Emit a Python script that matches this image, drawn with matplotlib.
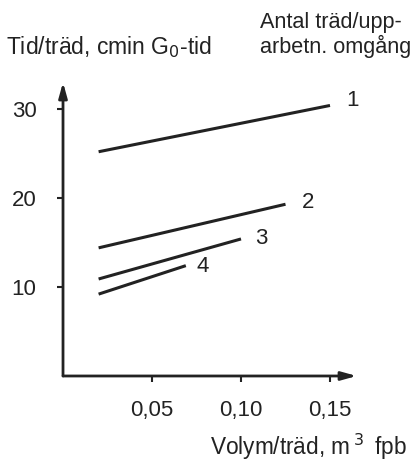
import matplotlib

matplotlib.use("Agg")
import matplotlib.pyplot as plt  # noqa: E402

plt.rcParams["font.family"] = ["Liberation Sans", "DejaVu Sans"]

# Volume per tree (m3 fpb) and time per tree (cmin G0-time) for each
# number of trees per work cycle.
group_names = ["1", "2", "3", "4"]
volume = [
    [0.02, 0.15],
    [0.02, 0.125],
    [0.02, 0.10],
    [0.02, 0.069],
]
time_per_tree = [
    [25.2, 30.4],
    [14.4, 19.3],
    [10.9, 15.4],
    [9.2, 12.4],
]

x_ticks = [0.05, 0.10, 0.15]
x_tick_labels = ["0,05", "0,10", "0,15"]
y_ticks = [10, 20, 30]

# Where each group number sits relative to its line end (points).
label_offsets = [(12, 3.6), (11.5, 1.4), (10, 0), (8, -0.7)]

ink = "#222222"

fig = plt.figure(figsize=(4.17, 4.61), dpi=100)
ax = fig.add_axes([0.1511, 0.1844, 0.7043, 0.637])
ax.set_xlim(0, 0.165)
ax.set_ylim(0, 33)

for spine in ax.spines.values():
    spine.set_visible(False)

# Axis lines with arrow heads.
arrow = dict(arrowstyle="-|>,head_length=0.9,head_width=0.25", color=ink,
             lw=2, shrinkA=0, shrinkB=0)
ax.annotate("", xy=(0.165, 0), xytext=(0, 0), arrowprops=arrow,
            annotation_clip=False)
ax.annotate("", xy=(0, 33), xytext=(0, 0), arrowprops=arrow,
            annotation_clip=False)

ax.set_xticks(x_ticks)
ax.set_xticklabels(x_tick_labels)
ax.set_yticks(y_ticks)
ax.tick_params(axis="both", direction="out", length=4, width=1.5,
               color=ink, labelcolor=ink, labelsize=16)
ax.tick_params(axis="x", pad=13)
ax.tick_params(axis="y", pad=15)

# One line per group, labelled at its right end.
for name, xs, ys, off in zip(group_names, volume, time_per_tree,
                             label_offsets):
    ax.plot(xs, ys, color=ink, lw=2.2, solid_capstyle="butt")
    ax.annotate(name, xy=(xs[-1], ys[-1]), xytext=off,
                textcoords="offset points", ha="left", va="center",
                fontsize=16, color=ink, annotation_clip=False)

fig.text(6 / 417, 1 - 54 / 461, "Tid/träd, cmin G$_0$-tid", ha="left",
         va="baseline", fontsize=16.5, color=ink)
fig.text(260 / 417, 1 - 28 / 461, "Antal träd/upp-", ha="left",
         va="baseline", fontsize=15.6, color=ink)
fig.text(260 / 417, 1 - 53 / 461, "arbetn. omgång", ha="left",
         va="baseline", fontsize=15.6, color=ink)
fig.text(407 / 417, 1 - 455 / 461, "Volym/träd, m$\\,^3\\,$ fpb", ha="right",
         va="baseline", fontsize=16.3, color=ink)

fig.savefig("out.png", dpi=100)
plt.close(fig)
